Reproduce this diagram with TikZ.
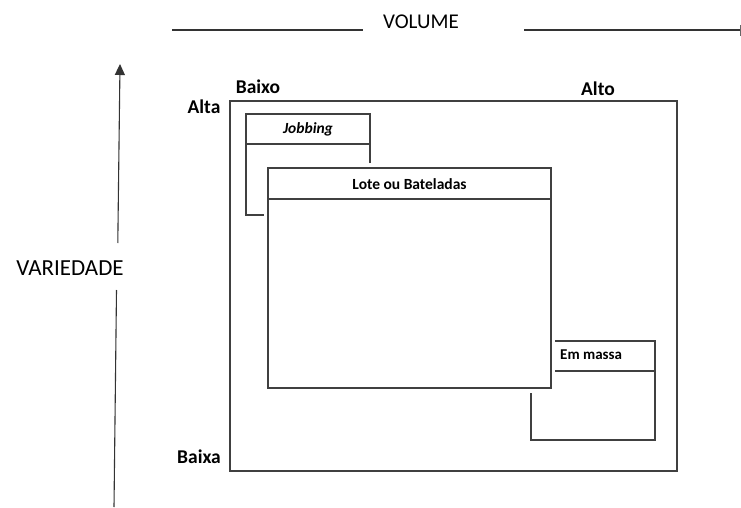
\documentclass[tikz,border=0pt]{standalone}
\usepackage{fontspec}
\setmainfont{Carlito}
\usetikzlibrary{arrows.meta}
\begin{document}
\begin{tikzpicture}[x=1pt,y=-1pt,
  ln/.style={draw=black!75, line width=1.3pt},
  axis/.style={draw=black!80, line width=1.1pt},
  lab/.style={font=\fontsize{15.5}{17}\selectfont\bfseries, inner sep=0pt},
  corner/.style={font=\fontsize{19.5}{21}\selectfont\bfseries, inner sep=0pt},
  big/.style={font=\fontsize{21}{23}\selectfont, inner sep=0pt}]
\useasboundingbox (0,0) rectangle (741,508);
% VOLUME axis
\node[big] (vol) at (421,22) {VOLUME};
\coordinate (v1) at (172,30);
\coordinate (v2) at (363,30);
\coordinate (v3) at (524,30);
\coordinate (v4) at (740,30);
\draw[axis] (v1) -- (v2);
\draw[axis] (v3) -- (v4);
\draw[draw=black!60, line width=0.8pt] (740,25) -- (740,36);
% VARIEDADE axis
\node[big, font=\fontsize{23}{25}\selectfont] (var) at (70,268) {VARIEDADE};
\coordinate (a0) at (114,507);
\coordinate (a1) at (116.5,290);
\coordinate (a2) at (117.8,243);
\coordinate (a3) at (120,64);
\draw[axis] (a0) -- (a1);
\draw[axis, -{Triangle[length=11pt,width=10pt]}] (a2) -- (a3);
% outer box
\draw[ln] (230,101) rectangle (677,471);
\node[corner] (baixo) at (258,87) {Baixo};
\node[corner] (alto) at (598,89) {Alto};
\node[corner] (alta) at (204,107) {Alta};
\node[corner] (baixa) at (199,457) {Baixa};
% Jobbing
\draw[ln] (370,163) -- (370,114) -- (246,114) -- (246,215) -- (264,215);
\draw[ln] (246,144) -- (370,144);
\node[lab, font=\fontsize{15.5}{17}\selectfont\bfseries\itshape] (job) at (308,129) {Jobbing};
% Lote ou Bateladas
\draw[ln] (268,168) rectangle (551,388);
\draw[ln] (268,199) -- (551,199);
\node[lab] (lote) at (409.5,184) {Lote ou Bateladas};
% Em massa
\draw[ln] (555,341) -- (655,341) -- (655,440) -- (531,440) -- (531,393);
\draw[ln] (555,371) -- (655,371);
\node[lab, anchor=west, font=\fontsize{15}{17}\selectfont\bfseries] (em) at (560,355) {Em massa};
\end{tikzpicture}
\end{document}
